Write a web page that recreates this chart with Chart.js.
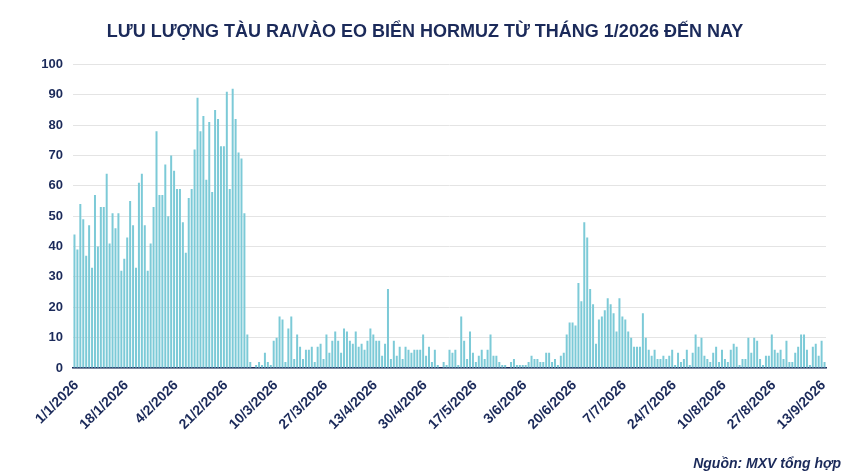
<!DOCTYPE html>
<html><head><meta charset="utf-8">
<script src="https://cdn.jsdelivr.net/npm/chart.js@4/dist/chart.umd.min.js"></script>
<style>html,body{margin:0;padding:0;background:#fff;}#wrap{width:850px;height:476px;}</style>
</head><body><div id="wrap"><canvas id="c" width="850" height="476"></canvas></div>
<script>
const titleText = 'LƯU LƯỢNG TÀU RA/VÀO EO BIỂN HORMUZ TỪ THÁNG 1/2026 ĐẾN NAY';
const footerText = 'Nguồn: MXV tổng hợp';
const jan = [44,39,54,49,37,47,33,57,40,53,53,64,41,51,46,51,32,36,43,55,47,33,61,64,47,32,41,53,78,57,57];
const feb = [67,50,70,65,59,59,48,38,56,59,72,89,78,83,62,81,58,85,82,73,73,91,59,92,82,71,69,51];
const mar = [11,2,0,1,2,1,5,2,1,9,10,17,16,2,13,17,3,11,7,3,6,6,7,2,7,8,3,11,5,9,12];
const apr = [9,5,13,12,9,8,12,7,8,6,9,13,11,9,9,4,8,26,3,9,4,7,3,7,6,5,6,6,6,11];
const may = [4,7,2,6,1,0,2,1,6,5,6,1,17,9,3,12,5,2,4,6,3,6,11,4,4,2,1,1,0,2,3];
const jun = [1,1,1,1,2,4,3,3,2,2,5,5,2,3,1,4,5,11,15,15,14,28,22,48,43,26,21,8,16,17];
const jul = [19,23,21,18,12,23,17,16,12,10,7,7,7,18,10,6,4,6,3,3,4,3,4,6,1,5,2,3,6,1,5];
const aug = [11,7,10,4,3,2,5,7,2,6,3,2,6,8,7,1,3,3,10,5,10,9,3,1,4,4,11,6,5,6,3];
const sep = [9,2,2,5,7,11,11,6,1,7,8,4,9,2];
const monthData = [jan, feb, mar, apr, may, jun, jul, aug, sep];
const values = [].concat(...monthData);
const categories = [];
monthData.forEach((arr, m) => arr.forEach((v, d) => categories.push((d + 1) + '/' + (m + 1) + '/2026')));
const tickLabels = ['1/1/2026','18/1/2026','4/2/2026','21/2/2026','10/3/2026','27/3/2026','13/4/2026','30/4/2026','17/5/2026','3/6/2026','20/6/2026','7/7/2026','24/7/2026','10/8/2026','27/8/2026','13/9/2026'];
const yMax = 100, yStep = 10;

const navy = '#1b2a5a';
const fontFam = '"Liberation Sans", Arial, Helvetica, sans-serif';

const footerPlugin = {
  id: 'footerNote',
  afterDraw(chart) {
    const ctx = chart.ctx;
    ctx.save();
    ctx.font = 'italic bold 14px ' + fontFam;
    ctx.fillStyle = navy;
    ctx.textAlign = 'right';
    ctx.textBaseline = 'alphabetic';
    ctx.fillText(footerText, 841, 468);
    ctx.restore();
  }
};

new Chart(document.getElementById('c'), {
  type: 'bar',
  data: {
    labels: categories,
    datasets: [{
      data: values,
      backgroundColor: '#7ccad7',
      borderWidth: 0,
      barPercentage: 0.68,
      categoryPercentage: 1.0
    }]
  },
  options: {
    responsive: false,
    animation: false,
    devicePixelRatio: 1,
    layout: { padding: { left: 24, right: 24, top: 0, bottom: 38 } },
    plugins: {
      legend: { display: false },
      tooltip: { enabled: false },
      title: {
        display: true,
        text: titleText,
        color: navy,
        font: { family: fontFam, size: 18, weight: 'bold', lineHeight: 1.2 },
        padding: { top: 21.4, bottom: 21.4 }
      }
    },
    scales: {
      x: {
        grid: { display: false, drawTicks: false },
        border: { display: true, color: navy, width: 1.5 },
        afterFit(scale) { scale.height = 70; },
        ticks: {
          autoSkip: false,
          minRotation: 45,
          maxRotation: 45,
          padding: 9,
          labelOffset: 2,
          color: navy,
          font: { family: fontFam, size: 14, weight: 'bold' },
          callback(value, index) {
            const lab = categories[index];
            return tickLabels.includes(lab) ? lab : '';
          }
        }
      },
      y: {
        min: 0,
        max: yMax,
        afterFit(scale) { scale.width = 49; },
        grid: { color: '#e4e4e4', lineWidth: 1, drawTicks: false },
        border: { display: false },
        ticks: {
          stepSize: yStep,
          padding: 10,
          color: navy,
          font: { family: fontFam, size: 13, weight: 'bold' }
        }
      }
    }
  },
  plugins: [footerPlugin]
});
</script>
</body></html>
